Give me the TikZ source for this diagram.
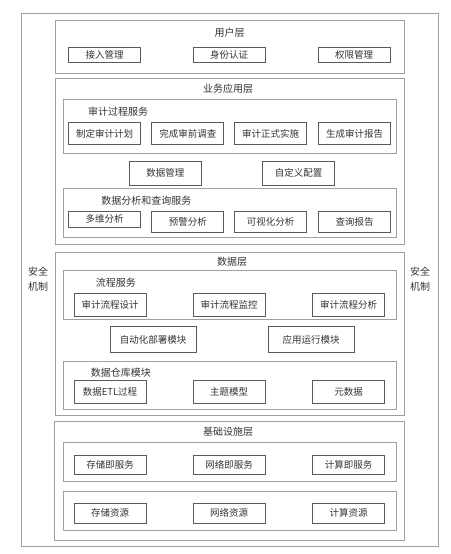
\documentclass[tikz,border=0pt]{standalone}
\usepackage{fontspec}
\setmainfont{Liberation Serif}
\newfontfamily\cjk{Noto Sans CJK SC}
\definecolor{txt}{HTML}{333333}
\definecolor{frm}{HTML}{A0A0A0}
\definecolor{bxc}{HTML}{5A5A5A}
\begin{document}
\begin{tikzpicture}[x=1pt,y=-1pt,
  frame/.style={draw=frm,line width=1pt,anchor=north west,inner sep=0pt},
  subframe/.style={draw=frm,line width=0.9pt,anchor=north west,inner sep=0pt},
  bx/.style={draw=bxc,line width=0.8pt,minimum width=72pt,minimum height=22pt,inner sep=0pt,font=\cjk\fontsize{9.5}{10}\selectfont,text=txt},
  lbl/.style={font=\cjk\fontsize{10}{11}\selectfont,text=txt,inner sep=0pt},
  sec/.style={font=\cjk\fontsize{10}{15}\selectfont,text=txt,inner sep=0pt,align=center},
  ttl/.style={font=\cjk\fontsize{10}{11}\selectfont,text=txt,inner sep=0pt}]
\useasboundingbox (0,0) rectangle (450,554);
% outer frame
\node[frame,minimum width=416.7pt,minimum height=532.7pt] (outer) at (21,13.3) {};
\node[sec] (secL) at (38,279.2) {安全\\机制};
\node[sec] (secR) at (420,279.2) {安全\\机制};
% user layer
\node[frame,minimum width=349pt,minimum height=52.7pt] (user) at (55,20) {};
\node[ttl] (userT) at (229.7,32.3) {用户层};
\node[bx,minimum height=15pt] (u1) at (104.5,55.2) {接入管理};
\node[bx,minimum height=15pt] (u2) at (229.2,55.2) {身份认证};
\node[bx,minimum height=15pt] (u3) at (354.2,55.2) {权限管理};
% business layer
\node[frame,minimum width=349pt,minimum height=166.3pt] (biz) at (55,77.7) {};
\node[ttl] (bizT) at (228,88.3) {业务应用层};
\node[subframe,minimum width=333.3pt,minimum height=53.7pt] (audit) at (62.7,99) {};
\node[lbl] (auditT) at (118,111.7) {审计过程服务};
\node[bx] (a1) at (104.5,133.8) {制定审计计划};
\node[bx] (a2) at (187.8,133.8) {完成审前调查};
\node[bx] (a3) at (270.5,133.8) {审计正式实施};
\node[bx] (a4) at (354.5,133.8) {生成审计报告};
\node[bx,minimum height=23.3pt] (dm) at (165.3,173.3) {数据管理};
\node[bx,minimum height=23.3pt] (cfg) at (298.5,173.3) {自定义配置};
\node[subframe,minimum width=333.3pt,minimum height=49pt] (ana) at (62.7,188.3) {};
\node[lbl] (anaT) at (146.3,200.7) {数据分析和查询服务};
\node[bx,minimum height=16.7pt] (q1) at (104.5,219.3) {多维分析};
\node[bx,minimum height=21pt] (q2) at (187.8,222.2) {预警分析};
\node[bx,minimum height=21pt] (q3) at (270.5,222.2) {可视化分析};
\node[bx,minimum height=21pt] (q4) at (354.5,222.2) {查询报告};
% data layer
\node[frame,minimum width=349pt,minimum height=163pt] (data) at (55,251.7) {};
\node[ttl] (dataT) at (232,261.7) {数据层};
\node[subframe,minimum width=333.3pt,minimum height=49.3pt] (flow) at (62.7,270) {};
\node[lbl] (flowT) at (115.8,282.7) {流程服务};
\node[bx,minimum height=23.3pt] (f1) at (110,305) {审计流程设计};
\node[bx,minimum height=23.3pt] (f2) at (229.2,305) {审计流程监控};
\node[bx,minimum height=23.3pt] (f3) at (348.7,305) {审计流程分析};
\node[bx,minimum width=86pt,minimum height=26pt] (auto) at (153,339.7) {自动化部署模块};
\node[bx,minimum width=85.7pt,minimum height=26pt] (run) at (311.2,339.7) {应用运行模块};
\node[subframe,minimum width=333.3pt,minimum height=48.3pt] (wh) at (62.7,360.7) {};
\node[lbl] (whT) at (120.8,372.3) {数据仓库模块};
\node[bx,minimum height=22.7pt] (w1) at (110,392) {数据ETL过程};
\node[bx,minimum height=22.7pt] (w2) at (229.2,392) {主题模型};
\node[bx,minimum height=22.7pt] (w3) at (348.7,392) {元数据};
% infrastructure layer
\node[frame,minimum width=349.7pt,minimum height=119.3pt] (infra) at (54.3,420.7) {};
\node[ttl] (infraT) at (228,431.7) {基础设施层};
\node[subframe,minimum width=333.3pt,minimum height=39.3pt] (svc) at (62.7,441.7) {};
\node[bx,minimum height=19pt] (s1) at (110,464.5) {存储即服务};
\node[bx,minimum height=19pt] (s2) at (229.2,464.5) {网络即服务};
\node[bx,minimum height=19pt] (s3) at (348.7,464.5) {计算即服务};
\node[subframe,minimum width=333.3pt,minimum height=39.3pt] (res) at (62.7,490.7) {};
\node[bx,minimum height=20pt] (r1) at (110,513.3) {存储资源};
\node[bx,minimum height=20pt] (r2) at (229.2,513.3) {网络资源};
\node[bx,minimum height=20pt] (r3) at (348.7,513.3) {计算资源};
\end{tikzpicture}
\end{document}
